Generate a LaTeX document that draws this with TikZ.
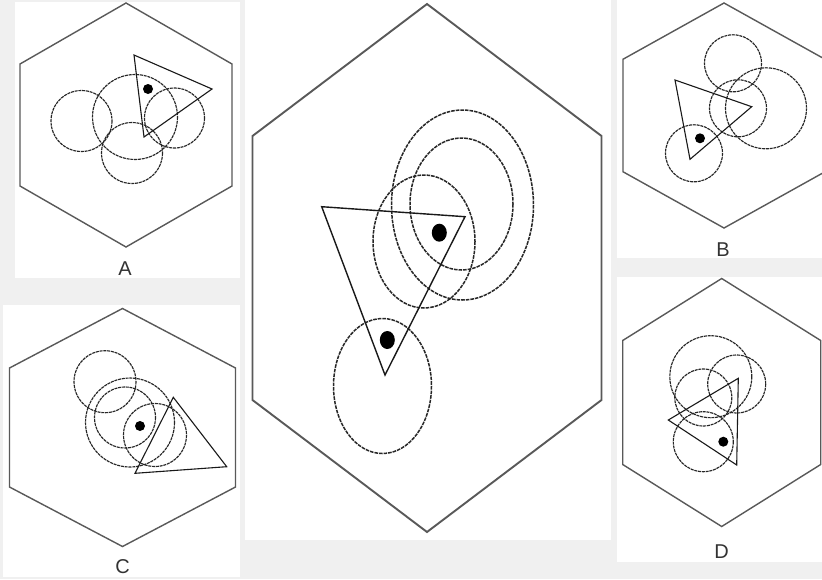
\documentclass[tikz,border=0pt]{standalone}
\usepackage{fontspec}
\setmainfont{Liberation Sans}
\usetikzlibrary{positioning}

% hexagon frame: centre x, centre y, half width, half height
\newcommand{\hexshape}[4]{%
  \draw[hexline] (#1,{#2-#4}) -- ({#1+#3},{#2-#4/2}) -- ({#1+#3},{#2+#4/2})
    -- (#1,{#2+#4}) -- ({#1-#3},{#2+#4/2}) -- ({#1-#3},{#2-#4/2}) -- cycle;}

\begin{document}
\begin{tikzpicture}[x=1pt, y=-1pt,
    hexline/.style={draw=black!65, line width=1.4pt, line join=miter},
    ring/.style={draw=black!85, line width=1.15pt, dash pattern=on 3pt off 0.8pt},
    tri/.style={draw=black!90, line width=1.1pt, line join=miter},
    bold/.style={hexline/.append style={line width=1.9pt},
                 ring/.append style={line width=1.5pt, dash pattern=on 3.6pt off 1pt},
                 tri/.append style={line width=1.4pt}},
    eye/.style={fill=black},
    tag/.style={font=\fontsize{20}{20}\selectfont, text=black!80}]
    \useasboundingbox (0,0) rectangle (822,579);
    \fill[black!6] (0,0) rectangle (822,579);

    % white cards
    \fill[white] (15,2) rectangle (240,278);
    \fill[white] (245,0) rectangle (611,540);
    \fill[white] (617,0) rectangle (822,258);
    \fill[white] (3,305) rectangle (240,577);
    \fill[white] (617,277) rectangle (822,562);

    % Main figure (stretched)
    \begin{scope}[bold]
    \hexshape{427}{268}{174.5}{264}
    \draw[ring] (462.5,205) ellipse [x radius=71, y radius=95];
    \draw[ring] (461.5,204) ellipse [x radius=51.5, y radius=66];
    \draw[ring] (424,241.5) ellipse [x radius=51, y radius=66.5];
    \draw[ring] (382.5,386) ellipse [x radius=49, y radius=67.5];
    \draw[tri] (321.7,206.7) -- (465,216.7) -- (385,375) -- cycle;
    \fill[eye] (439.3,232.7) ellipse [x radius=7.5, y radius=9];
    \fill[eye] (387.3,340) ellipse [x radius=7.5, y radius=9];
    \end{scope}

    % Panel A
    \hexshape{126}{125}{106}{122}
    \draw[ring] (81.5,121) circle (30.5);
    \draw[ring] (135,117) circle (42.5);
    \draw[ring] (174.5,118) circle (30);
    \draw[ring] (132,153) circle (30.5);
    \draw[tri] (134,55) -- (212,89) -- (144,137) -- cycle;
    \fill[eye] (148,89) circle (5);
    \node[tag] (labA) at (125,269) {A};

    % Panel B
    \hexshape{724}{115.5}{101}{112.5}
    \draw[ring] (733,63.3) circle (28.5);
    \draw[ring] (738,108.3) circle (28.5);
    \draw[ring] (766,108.3) circle (40.5);
    \draw[ring] (694,153.3) circle (28.5);
    \draw[tri] (675,80) -- (751.7,106.7) -- (690,159.3) -- cycle;
    \fill[eye] (700,138.3) circle (5);
    \node[tag] (labB) at (723,250) {B};

    % Panel C
    \hexshape{122.5}{427.5}{113}{119}
    \draw[ring] (105,381.7) circle (31);
    \draw[ring] (130,422.5) circle (44.5);
    \draw[ring] (125,417.5) circle (30.5);
    \draw[ring] (155,435) circle (31.5);
    \draw[tri] (173.3,397.3) -- (226.7,466.7) -- (135,473.3) -- cycle;
    \fill[eye] (140,426) circle (5);
    \node[tag] (labC) at (122.7,567) {C};

    % Panel D
    \hexshape{721.7}{402.5}{99}{124}
    \draw[ring] (710.8,376.7) circle (41);
    \draw[ring] (736.7,384) circle (29);
    \draw[ring] (703.3,397.5) circle (28.5);
    \draw[ring] (703.3,441.7) circle (30);
    \draw[tri] (738.3,378.3) -- (736.7,465) -- (668.3,420) -- cycle;
    \fill[eye] (723.3,441.7) circle (5);
    \node[tag] (labD) at (721.7,551.7) {D};
\end{tikzpicture}
\end{document}
